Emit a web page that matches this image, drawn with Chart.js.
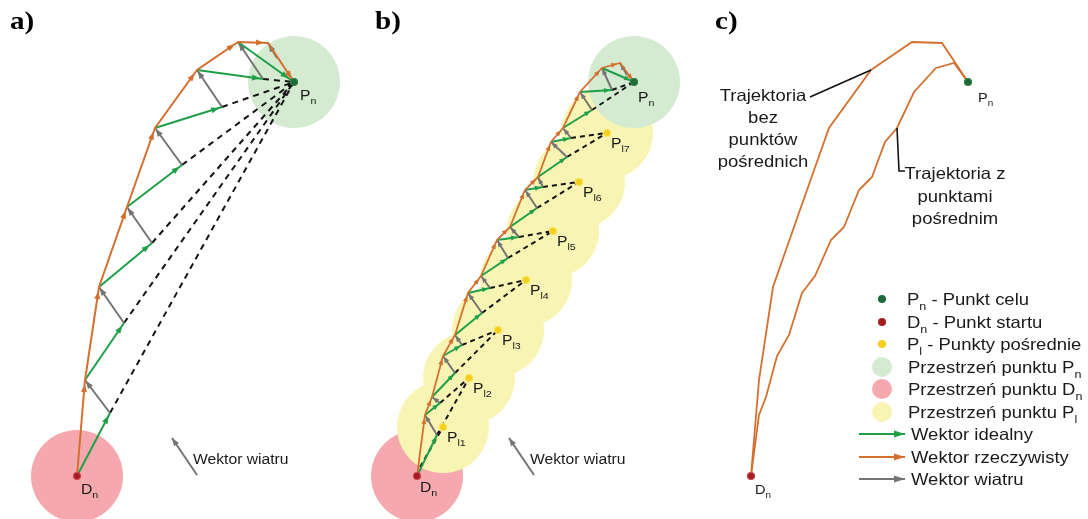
<!DOCTYPE html>
<html>
<head>
<meta charset="utf-8">
<script src="https://cdn.jsdelivr.net/npm/chart.js@4.4.1/dist/chart.umd.min.js"></script>
<style>
  html, body { margin: 0; padding: 0; background: #ffffff; }
  canvas { display: block; }
</style>
</head>
<body>
<canvas id="flight" width="1088" height="519"></canvas>
<script>
// ---- Flight geometry (x east, y north, relative to the start point D_n) ----

// Goal point P_n
const targetPoint = [217, 394];

// a) flight straight to P_n: actual trajectory vertices
const pathA = [[0, 0], [8, 96], [22, 189], [50, 269], [78, 348], [120, 406], [161, 434], [191, 433], [217, 394]];
// end of the ideal vector started at each trajectory vertex
const idealEndA = [[33, 63], [47, 153], [75, 233], [105, 311], [145, 369], [186, 397], [214, 396]];
// tail of the wind vector that carries the craft to the next vertex
const windFromA = [[33, 63], [47, 153], [75, 233], [105, 311], [145, 369], [186, 397], [200, 418]];

// b) flight through intermediate points P_l1 .. P_l7
const waypoints = [[26, 49], [52, 98], [81, 146], [109, 196], [136, 245], [162, 294], [190, 343]];
const waypointNames = ['l1', 'l2', 'l3', 'l4', 'l5', 'l6', 'l7'];
const pathB = [[0, 0], [8, 61], [15, 79], [26, 120], [38, 141], [51, 183], [64, 200], [80, 236], [93, 249],
               [108, 286], [121, 299], [134, 334], [146, 348], [163, 384], [185, 408], [203, 413], [217, 394]];
const idealEndB = [[20, 41], [23, 73], [38, 103], [45, 131], [65, 163], [73, 188], [91, 218], [102, 239],
                   [120, 268], [126, 289], [150, 319], [154, 338], [175, 366], [195, 386], [215, 395]];
const windFromB = [[20, 41], [23, 73], [38, 103], [45, 131], [65, 163], [73, 188], [91, 218], [102, 239],
                   [120, 268], [126, 289], [150, 319], [154, 338], [175, 366], [195, 386], [210, 401]];
// dashed aiming lines: start point and aimed point (0..6 = P_l1..P_l7, 7 = P_n)
const guideFromB = [[3, 9], [20, 41], [23, 73], [38, 103], [45, 131], [65, 163], [73, 188], [91, 218],
                    [102, 239], [120, 268], [126, 289], [150, 319], [154, 338], [175, 366], [195, 386]];
const guideAimB = [0, 1, 1, 2, 2, 3, 3, 4, 4, 5, 5, 6, 6, 7, 7];

// c) leader lines from the captions to the two trajectories
const leaderDirect = [[59, 379], [120, 406]];
const leaderWaypoints = [[146, 348], [148, 305], [154, 305]];

// legend
const legendLabels = ['P_{n} - Punkt celu', 'D_{n} - Punkt startu', 'P_{l} - Punkty pośrednie',
  'Przestrzeń punktu P_{n}', 'Przestrzeń punktu D_{n}', 'Przestrzeń punktu P_{l}',
  'Wektor idealny', 'Wektor rzeczywisty', 'Wektor wiatru'];
const legendKinds = ['dot', 'dot', 'dot', 'zone', 'zone', 'zone', 'arrow', 'arrow', 'arrow'];
const legendColorKeys = ['dotTarget', 'dotStart', 'dotWay', 'zoneTarget', 'zoneStart', 'zoneWay', 'ideal', 'real', 'wind'];

// ---- Styling / layout ----
const COLORS = {
  real: '#d4702f', ideal: '#1f9f48', wind: '#747474', guide: '#141414', leader: '#111111',
  zoneTarget: '#d4ead1', zoneStart: '#f5a9ae', zoneWay: '#f8f5b4',
  dotTarget: '#1d6b36', dotStart: '#a31d22', dotWay: '#f4cf1c', text: '#1a1a1a'
};
const panelOrigin = { a: 77, b: 417, c: 751 };
const ZONE_R = 46;
const SANS = '"Liberation Sans", Arial, sans-serif';
const SERIF = '"Liberation Serif", "Times New Roman", serif';
const STRETCH = 1.12;

const pt = (panel, p) => ({ x: panelOrigin[panel] + p[0], y: p[1] });
const GAP = { x: NaN, y: NaN };
function segs(panel, pairs) {
  const out = [];
  pairs.forEach(([s, e], i) => { if (i) out.push(GAP); out.push(pt(panel, s), pt(panel, e)); });
  return out;
}
const guideTargets = waypoints.concat([targetPoint]);

const datasets = [];
function addZones(pts, color) {
  datasets.push({ data: pts, showLine: false, pointRadius: ZONE_R, pointBackgroundColor: color, pointBorderWidth: 0 });
}
function addLine(data, color, width, extra = {}) {
  datasets.push(Object.assign({ data, showLine: true, pointRadius: 0, borderColor: color, borderWidth: width,
    tension: 0, fill: false, spanGaps: false, borderCapStyle: 'butt', borderJoinStyle: 'miter' }, extra));
}
function addDots(pts, fill, stroke, r) {
  datasets.push({ data: pts, showLine: false, pointRadius: r, pointBackgroundColor: fill, pointBorderColor: stroke, pointBorderWidth: 1.2 });
}

// zones (start, intermediate, goal)
addZones([pt('a', [0, 0]), pt('b', [0, 0])], COLORS.zoneStart);
addZones(waypoints.map(p => pt('b', p)), COLORS.zoneWay);
addZones([pt('a', targetPoint), pt('b', targetPoint)], COLORS.zoneTarget);

// dashed aiming lines
addLine(segs('a', idealEndA.slice(0, 6).map(p => [p, targetPoint])), COLORS.guide, 2, { borderDash: [6, 5] });
addLine(segs('b', guideFromB.map((p, i) => [p, guideTargets[guideAimB[i]]])), COLORS.guide, 2, { borderDash: [5, 4] });

// wind vectors
const arrowA = { len: 8, wid: 6, back: 1 };
const arrowB = { len: 6, wid: 5, back: 1 };
addLine(segs('a', windFromA.map((p, i) => [p, pathA[i + 1]])), COLORS.wind, 2, { arrow: arrowA });
addLine(segs('b', windFromB.map((p, i) => [p, pathB[i + 1]])), COLORS.wind, 2, { arrow: arrowB });

// ideal vectors
addLine(segs('a', idealEndA.map((p, i) => [pathA[i], p])), COLORS.ideal, 2, { arrow: Object.assign({}, arrowA, { back: 3 }) });
addLine(segs('b', idealEndB.map((p, i) => [pathB[i], p])), COLORS.ideal, 2, { arrow: Object.assign({}, arrowB, { back: 2 }) });

// actual trajectories
addLine(pathA.map(p => pt('a', p)), COLORS.real, 2, { arrow: Object.assign({}, arrowA, { back: 4 }) });
addLine(pathB.map(p => pt('b', p)), COLORS.real, 1.8, { arrow: Object.assign({}, arrowB, { back: 3 }) });
addLine(pathA.map(p => pt('c', p)), COLORS.real, 1.8);
addLine(pathB.map(p => pt('c', p)), COLORS.real, 1.8);

// caption leaders
addLine(leaderDirect.map(p => pt('c', p)), COLORS.leader, 1.6);
addLine(leaderWaypoints.map(p => pt('c', p)), COLORS.leader, 1.6);

// points
addDots(waypoints.map(p => pt('b', p)), COLORS.dotWay, '#f7e15a', 3.5);
addDots(['a', 'b', 'c'].map(k => pt(k, [0, 0])), COLORS.dotStart, '#c9474c', 3.5);
addDots(['a', 'b', 'c'].map(k => pt(k, targetPoint)), COLORS.dotTarget, '#2f7f47', 3.5);

datasets.forEach((d, i) => { d.order = 1000 - i; });

// ---- drawing helpers ----
function drawHead(ctx, x0, y0, x1, y1, a) {
  const dx = x1 - x0, dy = y1 - y0, L = Math.hypot(dx, dy);
  if (L < 2) return;
  const ux = dx / L, uy = dy / L;
  const back = Math.min(a.back, L * 0.2);
  const len = Math.min(a.len, L * 0.6);
  const wid = a.wid * len / a.len;
  const tx = x1 - ux * back, ty = y1 - uy * back;
  const bx = tx - ux * len, by = ty - uy * len;
  ctx.beginPath();
  ctx.moveTo(tx, ty);
  ctx.lineTo(bx - uy * wid / 2, by + ux * wid / 2);
  ctx.lineTo(bx + uy * wid / 2, by - ux * wid / 2);
  ctx.closePath();
  ctx.fill();
}

function richText(ctx, text, x, y, size, opts = {}) {
  const family = opts.family || SANS;
  const weight = opts.weight || 'normal';
  const parts = [];
  const re = /_\{([^}]*)\}/g;
  let last = 0, m;
  while ((m = re.exec(text))) {
    if (m.index > last) parts.push({ t: text.slice(last, m.index) });
    parts.push({ t: m[1], sub: true });
    last = re.lastIndex;
  }
  if (last < text.length) parts.push({ t: text.slice(last) });
  ctx.save();
  ctx.translate(x, y);
  ctx.scale(STRETCH, 1);
  ctx.fillStyle = opts.color || COLORS.text;
  ctx.textBaseline = 'alphabetic';
  ctx.textAlign = 'left';
  const setFont = p => { ctx.font = `${weight} ${p.sub ? size * 0.68 : size}px ${family}`; };
  const widths = parts.map(p => { setFont(p); return ctx.measureText(p.t).width; });
  const total = widths.reduce((s, w) => s + w, 0);
  let cx = opts.align === 'center' ? -total / 2 : 0;
  parts.forEach((p, i) => { setFont(p); ctx.fillText(p.t, cx, p.sub ? size * 0.28 : 0); cx += widths[i]; });
  ctx.restore();
}

function arrowLine(ctx, x0, y0, x1, y1, color, width, head) {
  ctx.save();
  ctx.strokeStyle = color; ctx.fillStyle = color; ctx.lineWidth = width;
  ctx.beginPath(); ctx.moveTo(x0, y0); ctx.lineTo(x1, y1); ctx.stroke();
  drawHead(ctx, x0, y0, x1, y1, head);
  ctx.restore();
}

const arrowHeads = {
  id: 'arrowHeads',
  afterDatasetDraw(chart, args) {
    const ds = chart.data.datasets[args.index];
    if (!ds.arrow) return;
    const pts = args.meta.data, ctx = chart.ctx;
    ctx.save();
    ctx.fillStyle = ds.borderColor;
    for (let k = 0; k + 1 < pts.length; k++) {
      const p = pts[k], q = pts[k + 1];
      if (!isFinite(p.x) || !isFinite(p.y) || !isFinite(q.x) || !isFinite(q.y)) continue;
      drawHead(ctx, p.x, p.y, q.x, q.y, ds.arrow);
    }
    ctx.restore();
  }
};

const annotations = {
  id: 'annotations',
  afterDraw(chart) {
    const ctx = chart.ctx;
    const X = v => chart.scales.x.getPixelForValue(v);
    const Y = v => chart.scales.y.getPixelForValue(v);
    const px = (panel, p) => [X(panelOrigin[panel] + p[0]), Y(p[1])];

    // panel letters
    [['a)', 10], ['b)', 375], ['c)', 715]].forEach(([t, x]) =>
      richText(ctx, t, x, 29, 26, { family: SERIF, weight: 'bold', color: '#000' }));

    // point names
    const [ax, ay] = px('a', targetPoint);
    richText(ctx, 'P_{n}', ax + 6, ay + 18, 14);
    const [adx, ady] = px('a', [0, 0]);
    richText(ctx, 'D_{n}', adx + 4, ady + 18, 14);
    const [bx, by] = px('b', targetPoint);
    richText(ctx, 'P_{n}', bx + 4, by + 20, 14);
    const [bdx, bdy] = px('b', [0, 0]);
    richText(ctx, 'D_{n}', bdx + 3, bdy + 16, 14);
    waypoints.forEach((p, i) => {
      const [wx, wy] = px('b', p);
      richText(ctx, 'P_{' + waypointNames[i] + '}', wx + 4, wy + 15, 14);
    });
    const [cx, cy] = px('c', targetPoint);
    richText(ctx, 'P_{n}', cx + 10, cy + 20, 13);
    const [cdx, cdy] = px('c', [0, 0]);
    richText(ctx, 'D_{n}', cdx + 4, cdy + 18, 13);

    // wind direction samples
    const windHead = { len: 8, wid: 6, back: 0 };
    arrowLine(ctx, 197, 475, 172, 438, COLORS.wind, 2, windHead);
    richText(ctx, 'Wektor wiatru', 193, 464, 14);
    arrowLine(ctx, 534, 475, 509, 438, COLORS.wind, 2, windHead);
    richText(ctx, 'Wektor wiatru', 530, 464, 14);

    // trajectory captions
    ['Trajektoria', 'bez', 'punktów', 'pośrednich'].forEach((t, i) =>
      richText(ctx, t, 763, 101 + i * 22, 16.5, { align: 'center' }));
    ['Trajektoria z', 'punktami', 'pośrednim'].forEach((t, i) =>
      richText(ctx, t, 955, 179 + i * 22.5, 16.5, { align: 'center' }));

    // legend
    const rows = [299, 322, 344, 367, 389, 412, 434, 457, 479];
    legendLabels.forEach((label, i) => {
      const y = rows[i], kind = legendKinds[i], col = COLORS[legendColorKeys[i]];
      let tx = 907;
      ctx.save();
      if (kind === 'dot') {
        ctx.fillStyle = col;
        ctx.beginPath(); ctx.arc(882, y, 4, 0, Math.PI * 2); ctx.fill();
      } else if (kind === 'zone') {
        ctx.fillStyle = col;
        ctx.beginPath(); ctx.arc(882, y, 10, 0, Math.PI * 2); ctx.fill();
        tx = 908;
      } else {
        arrowLine(ctx, 859, y, 905, y, col, 2, { len: 11, wid: 7, back: 0 });
        tx = 911;
      }
      ctx.restore();
      richText(ctx, label, tx, y + 6, 16.5);
    });
  }
};

new Chart(document.getElementById('flight'), {
  type: 'scatter',
  data: { datasets },
  options: {
    responsive: false,
    devicePixelRatio: 1,
    animation: false,
    events: [],
    layout: { padding: 0, autoPadding: false },
    plugins: { legend: { display: false }, tooltip: { enabled: false }, title: { display: false } },
    scales: {
      x: { type: 'linear', min: 0, max: 1088, display: false },
      y: { type: 'linear', min: -43, max: 476, display: false }
    },
    elements: { point: { hoverRadius: 0 } },
    clip: false
  },
  plugins: [arrowHeads, annotations]
});
</script>
</body>
</html>
